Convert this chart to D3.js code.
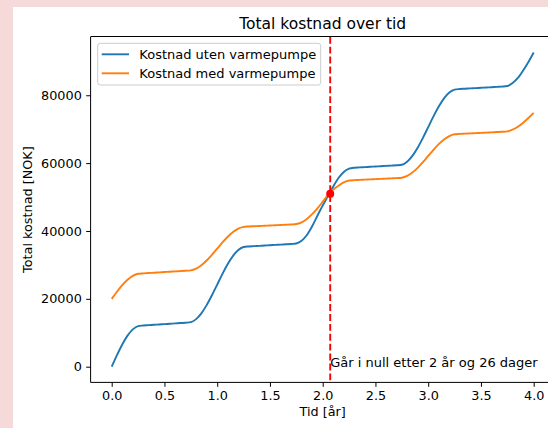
<!DOCTYPE html>
<html>
<head>
<meta charset="utf-8">
<script src="https://cdn.jsdelivr.net/npm/d3@7"></script>
<style>
  html, body { margin: 0; padding: 0; background: #fff; }
  svg { display: block; font-family: "DejaVu Sans", sans-serif; }
</style>
</head>
<body>
<svg id="chart" width="548" height="428"></svg>
<script>
// Tid i år (hver 0.05 år)
const tid = [
  0, 0.05, 0.1, 0.15, 0.2, 0.25, 0.3, 0.35, 0.4, 0.45, 0.5, 0.55, 0.6, 0.65, 0.7, 0.75, 0.8, 0.85, 0.9, 0.95,
  1, 1.05, 1.1, 1.15, 1.2, 1.25, 1.3, 1.35, 1.4, 1.45, 1.5, 1.55, 1.6, 1.65, 1.7, 1.75, 1.8, 1.85, 1.9, 1.95,
  2, 2.05, 2.1, 2.15, 2.2, 2.25, 2.3, 2.35, 2.4, 2.45, 2.5, 2.55, 2.6, 2.65, 2.7, 2.75, 2.8, 2.85, 2.9, 2.95,
  3, 3.05, 3.1, 3.15, 3.2, 3.25, 3.3, 3.35, 3.4, 3.45, 3.5, 3.55, 3.6, 3.65, 3.7, 3.75, 3.8, 3.85, 3.9, 3.95,
  4
];

// Total kostnad uten varmepumpe [NOK]
const kostnadUten = [
  0, 3417, 6554, 9156, 11011, 11971, 12140, 12240, 12345, 12445, 12550, 12650, 12755, 12860, 12960, 13123, 14015, 15734, 18140, 21041,
  24200, 27359, 30260, 32666, 34385, 35277, 35440, 35530, 35620, 35710, 35800, 35890, 35980, 36070, 36160, 36323, 37100, 38800, 41400, 44500,
  47500, 50300, 53100, 55600, 57400, 58350, 58640, 58730, 58820, 58910, 59000, 59090, 59180, 59270, 59360, 59523, 60415, 62134, 64540, 67441,
  70600, 73759, 76660, 79066, 80785, 81677, 81840, 81930, 82020, 82110, 82200, 82290, 82380, 82470, 82560, 82723, 83615, 85100, 87300, 89800,
  92600
];

// Total kostnad med varmepumpe [NOK]
const kostnadMed = [
  20000, 22097, 24024, 25625, 26773, 27377, 27500, 27600, 27700, 27790, 27890, 27985, 28080, 28180, 28275, 28391, 28922, 29922, 31312, 32983,
  34800, 36617, 38288, 39678, 40678, 41209, 41325, 41400, 41475, 41550, 41625, 41700, 41775, 41850, 41925, 42041, 42550, 43550, 44950, 46650,
  48600, 50650, 52200, 53350, 54330, 54860, 54975, 55050, 55125, 55200, 55275, 55350, 55425, 55500, 55575, 55691, 56222, 57222, 58612, 60283,
  62100, 63917, 65588, 66978, 67978, 68509, 68625, 68700, 68775, 68850, 68925, 69000, 69075, 69150, 69225, 69341, 69872, 70700, 71900, 73300,
  74800
];

const serieNavn = ["Kostnad uten varmepumpe", "Kostnad med varmepumpe"];
const xTicks = [0, 0.5, 1, 1.5, 2, 2.5, 3, 3.5, 4];
const yTicks = [0, 20000, 40000, 60000, 80000];

// Punktet der varmepumpen har betalt seg
const nullTid = 2.0712;
const nullKostnad = 51000;
const nullTekst = "Går i null etter 2 år og 26 dager";

const svg = d3.select("#chart");
const width = 548;
const height = 428;
const plot = { left: 90.6, right: 554.8, top: 36.8, bottom: 382.4 };
const colors = ["#1f77b4", "#ff7f0e"];
const fontSize = 12.8;

// Pink figure background strips
svg.append("rect").attr("x", 0).attr("y", 0).attr("width", width).attr("height", height).attr("fill", "#f6d9d9");
svg.append("rect").attr("x", 13).attr("y", 7).attr("width", width - 13).attr("height", height - 7).attr("fill", "#fff");

// Scales with matplotlib-like 5% margins
const xExt = d3.extent(tid);
const yExt = [d3.min([...kostnadUten, ...kostnadMed]), d3.max([...kostnadUten, ...kostnadMed])];
const xPad = (xExt[1] - xExt[0]) * 0.05;
const yPad = (yExt[1] - yExt[0]) * 0.05;

const x = d3.scaleLinear()
  .domain([xExt[0] - xPad, xExt[1] + xPad])
  .range([plot.left, plot.right]);

const y = d3.scaleLinear()
  .domain([yExt[0] - yPad, yExt[1] + yPad])
  .range([plot.bottom, plot.top]);

// Clip to axes area
svg.append("defs").append("clipPath").attr("id", "clip")
  .append("rect")
  .attr("x", plot.left).attr("y", plot.top)
  .attr("width", plot.right - plot.left).attr("height", plot.bottom - plot.top);

const g = svg.append("g").attr("clip-path", "url(#clip)");

// Lines
const line = d3.line().curve(d3.curveMonotoneX);
[kostnadUten, kostnadMed].forEach((vals, i) => {
  g.append("path")
    .datum(vals.map((v, j) => [x(tid[j]), y(v)]))
    .attr("d", line)
    .attr("fill", "none")
    .attr("stroke", colors[i])
    .attr("stroke-width", 1.9)
    .attr("stroke-linejoin", "round")
    .attr("stroke-linecap", "butt");
});

// Vertical dashed line at break-even
g.append("line")
  .attr("x1", x(nullTid)).attr("x2", x(nullTid))
  .attr("y1", plot.top).attr("y2", plot.bottom)
  .attr("stroke", "#ff0000")
  .attr("stroke-width", 1.9)
  .attr("stroke-dasharray", "6.9,3");

// Break-even point
g.append("circle")
  .attr("cx", x(nullTid))
  .attr("cy", y(nullKostnad))
  .attr("r", 4)
  .attr("fill", "#ff0000");

// Annotation
svg.append("text")
  .attr("x", x(nullTid))
  .attr("y", y(0))
  .attr("font-size", 13)
  .attr("fill", "#000")
  .text(nullTekst);

// Axes
const xAxis = svg.append("g")
  .attr("transform", `translate(0, ${plot.bottom})`)
  .call(d3.axisBottom(x).tickValues(xTicks).tickFormat(d3.format(".1f")).tickSize(4.4).tickPadding(4.2));

const yAxis = svg.append("g")
  .attr("transform", `translate(${plot.left}, 0)`)
  .call(d3.axisLeft(y).tickValues(yTicks).tickFormat(d3.format("d")).tickSize(4.4).tickPadding(4.4));

[xAxis, yAxis].forEach(ax => {
  ax.select(".domain").remove();
  ax.selectAll("text")
    .attr("font-size", fontSize)
    .attr("font-family", "DejaVu Sans")
    .attr("fill", "#000");
  ax.selectAll("line").attr("stroke", "#000").attr("stroke-width", 1);
});

// Spines
svg.append("line").attr("x1", plot.left).attr("x2", plot.left).attr("y1", plot.top).attr("y2", plot.bottom)
  .attr("stroke", "#000").attr("stroke-width", 1);
svg.append("line").attr("x1", plot.left).attr("x2", plot.right).attr("y1", plot.bottom).attr("y2", plot.bottom)
  .attr("stroke", "#000").attr("stroke-width", 1);
svg.append("line").attr("x1", plot.left).attr("x2", plot.right).attr("y1", 36.5).attr("y2", 36.5)
  .attr("stroke", "#000").attr("stroke-width", 1);
svg.append("line").attr("x1", plot.right).attr("x2", plot.right).attr("y1", plot.top).attr("y2", plot.bottom)
  .attr("stroke", "#000").attr("stroke-width", 1);

// Title
svg.append("text")
  .attr("x", (plot.left + plot.right) / 2)
  .attr("y", 29.3)
  .attr("text-anchor", "middle")
  .attr("font-size", 15.5)
  .attr("fill", "#000")
  .text("Total kostnad over tid");

// Axis labels
svg.append("text")
  .attr("x", (plot.left + plot.right) / 2)
  .attr("y", 416)
  .attr("text-anchor", "middle")
  .attr("font-size", fontSize)
  .attr("fill", "#000")
  .text("Tid [år]");

svg.append("text")
  .attr("transform", `translate(32, ${(plot.top + plot.bottom) / 2}) rotate(-90)`)
  .attr("text-anchor", "middle")
  .attr("font-size", fontSize)
  .attr("fill", "#000")
  .text("Total kostnad [NOK]");

// Legend
const legend = svg.append("g");
legend.append("rect")
  .attr("x", 97.7).attr("y", 43.3)
  .attr("width", 223).attr("height", 41.7)
  .attr("rx", 2.5)
  .attr("fill", "#fff").attr("fill-opacity", 0.8)
  .attr("stroke", "#ccc").attr("stroke-width", 1);

serieNavn.forEach((name, i) => {
  const ly = 54.3 + i * 19;
  legend.append("line")
    .attr("x1", 101.7).attr("x2", 129)
    .attr("y1", ly).attr("y2", ly)
    .attr("stroke", colors[i]).attr("stroke-width", 1.9);
  legend.append("text")
    .attr("x", 139.3).attr("y", ly)
    .attr("dy", "0.36em")
    .attr("font-size", 13)
    .attr("fill", "#000")
    .text(name);
});
</script>
</body>
</html>
